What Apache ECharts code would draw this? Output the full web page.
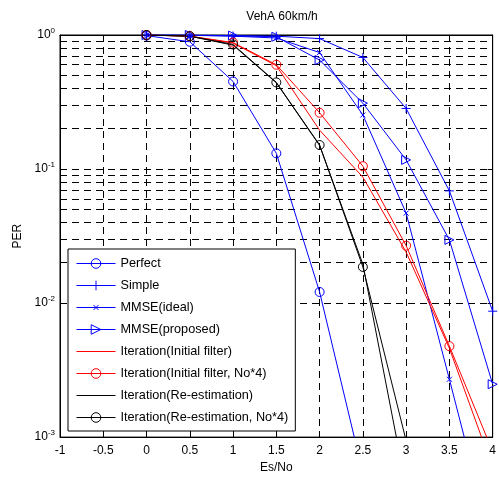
<!DOCTYPE html>
<html><head><meta charset="utf-8">
<script src="https://cdn.jsdelivr.net/npm/echarts@6/dist/echarts.min.js"></script>
<style>html,body{margin:0;padding:0;background:#fff}#c{width:499px;height:479px}</style>
</head><body><div id="c"></div>
<script>
var xs = [0, 0.5, 1, 1.5, 2, 2.5, 3, 3.5, 4];
var perfect = [0.99, 0.89, 0.45, 0.131, 0.0121, 0.00054];
var simple = [1, 0.995, 0.985, 0.98, 0.94, 0.68, 0.283, 0.0687, 0.0087];
var mmseIdeal = [1, 0.995, 0.98, 0.95, 0.74, 0.253, 0.0469, 0.0027, 0.00015];
var mmseProp = [1, 1, 0.99, 0.97, 0.65, 0.31, 0.117, 0.0296, 0.00248];
var iterInit = [1, 0.98, 0.87, 0.59, 0.195, 0.087, 0.024, 0.0046, 0.00059];
var iterInit4 = [1, 0.98, 0.878, 0.60, 0.263, 0.105, 0.0268, 0.00477, 0.00078];
var iterRe = [1, 0.98, 0.84, 0.44, 0.15, 0.0195, 0.00042];
var iterRe4 = [1, 0.98, 0.85, 0.443, 0.151, 0.0186, 0.00094];
var minorTicks = [];
[0.001, 0.01, 0.1].forEach(function (d) { for (var k = 2; k <= 9; k++) minorTicks.push(+(d * k).toPrecision(3)); });
var names = ['Perfect', 'Simple', 'MMSE(ideal)', 'MMSE(proposed)', 'Iteration(Initial filter)',
  'Iteration(Initial filter, No*4)', 'Iteration(Re-estimation)', 'Iteration(Re-estimation, No*4)'];

function pairs(v) { return v.map(function (y, i) { return [xs[i], y]; }); }
var BLUE = '#0000ff', RED = '#ff0000', BLACK = '#000000';
var PLUS = 'path://M5,0L5,10M0,5L10,5';
var CROSS = 'path://M-5,-5M15,15M0,0L10,10M10,0L0,10';
var TRI = 'path://M0,0L10,5L0,10Z';
var specs = [
  [perfect, BLUE, 'circle', 9],
  [simple, BLUE, PLUS, 9],
  [mmseIdeal, BLUE, CROSS, 10],
  [mmseProp, BLUE, TRI, 9],
  [iterInit, RED, null],
  [iterInit4, RED, 'circle', 9],
  [iterRe, BLACK, null],
  [iterRe4, BLACK, 'circle', 9]
];
function mk(i) {
  var s = specs[i], color = s[1], symbol = s[2];
  return {
    name: names[i], type: 'line', data: pairs(s[0]), z: 3,
    symbol: symbol || 'none', symbolSize: s[3] || 9, showSymbol: !!symbol,
    lineStyle: { color: color, width: 1 },
    itemStyle: { color: 'rgba(0,0,0,0)', borderColor: color, borderWidth: 1 },
    emphasis: { disabled: true }
  };
}
var legendData = names.map(function (n, i) {
  var s = specs[i];
  return {
    name: n,
    lineStyle: { color: s[1], width: 1 },
    itemStyle: s[2] ? { color: 'rgba(0,0,0,0)', borderColor: s[1], borderWidth: 1 } : { opacity: 0 }
  };
});
var FONT = 'Liberation Sans, Arial, sans-serif';
var tick = { inside: true, length: 5, lineStyle: { color: '#000' } };
var aline = { onZero: false, lineStyle: { color: '#000' } };
var chart = echarts.init(document.getElementById('c'), null, { renderer: 'canvas' });
chart.setOption({
  animation: false,
  backgroundColor: '#fff',
  textStyle: { fontFamily: FONT, color: '#000' },
  title: { text: 'VehA 60km/h', left: 277, top: 6, textAlign: 'center',
    textStyle: { fontSize: 12, fontWeight: 'normal', color: '#000', fontFamily: FONT } },
  grid: { left: 60, right: 5, top: 35, bottom: 41, show: true, borderColor: '#000', borderWidth: 1, backgroundColor: '#fff' },
  xAxis: [{
    type: 'value', min: -1, max: 4, interval: 0.5,
    name: 'Es/No', nameLocation: 'middle', nameGap: 22,
    nameTextStyle: { fontSize: 12, color: '#000', fontFamily: FONT },
    axisLine: aline,
    axisTick: tick,
    axisLabel: { fontSize: 12, color: '#000', margin: 8, fontFamily: FONT },
    splitLine: { show: true, lineStyle: { color: '#000', type: [7, 5], width: 1 } }
  }, {
    type: 'value', min: -1, max: 4, interval: 0.5, position: 'top',
    axisLine: aline, axisTick: tick,
    axisLabel: { show: false }, splitLine: { show: false }
  }],
  yAxis: [{
    type: 'log', logBase: 10, min: 0.001, max: 1,
    name: 'PER', nameLocation: 'middle', nameGap: 34,
    nameTextStyle: { fontSize: 12, color: '#000', fontFamily: FONT },
    axisLine: aline,
    axisTick: tick,
    axisLabel: {
      margin: 5, color: '#000',
      formatter: function (v) { return '{b|10}{s|' + Math.round(Math.log10(v)) + '}'; },
      rich: {
        b: { fontSize: 12, fontFamily: FONT, color: '#000' },
        s: { fontSize: 8, fontFamily: FONT, color: '#000', padding: [0, 0, 9, 0] }
      }
    },
    splitLine: { show: true, lineStyle: { color: '#000', type: [7, 5], width: 1 } }
  }, {
    type: 'log', logBase: 10, min: 0.001, max: 1, position: 'right',
    axisLine: aline, axisTick: tick,
    axisLabel: { show: false }, splitLine: { show: false }
  }],
  legend: {
    orient: 'vertical', left: 68, top: 249, z: 20,
    padding: [8, 7, 7, 8], itemGap: 9.0, itemWidth: 39, itemHeight: 12,
    backgroundColor: '#fff', borderColor: '#000', borderWidth: 1, borderRadius: 0,
    textStyle: { fontSize: 12.7, color: '#000', fontFamily: FONT },
    lineStyle: { width: 1 },
    data: legendData, selectedMode: false
  },
  series: [
    { name: '_grid', type: 'line', data: [], z: 1, silent: true,
      markLine: { silent: true, z: 1, symbol: 'none', label: { show: false }, animation: false,
        lineStyle: { color: '#000', type: [7, 5], width: 1 },
        emphasis: { disabled: true },
        data: minorTicks.map(function (v) { return { yAxis: v }; }) } }
  ].concat(names.map(function (n, i) { return mk(i); }))
});
</script></body></html>
